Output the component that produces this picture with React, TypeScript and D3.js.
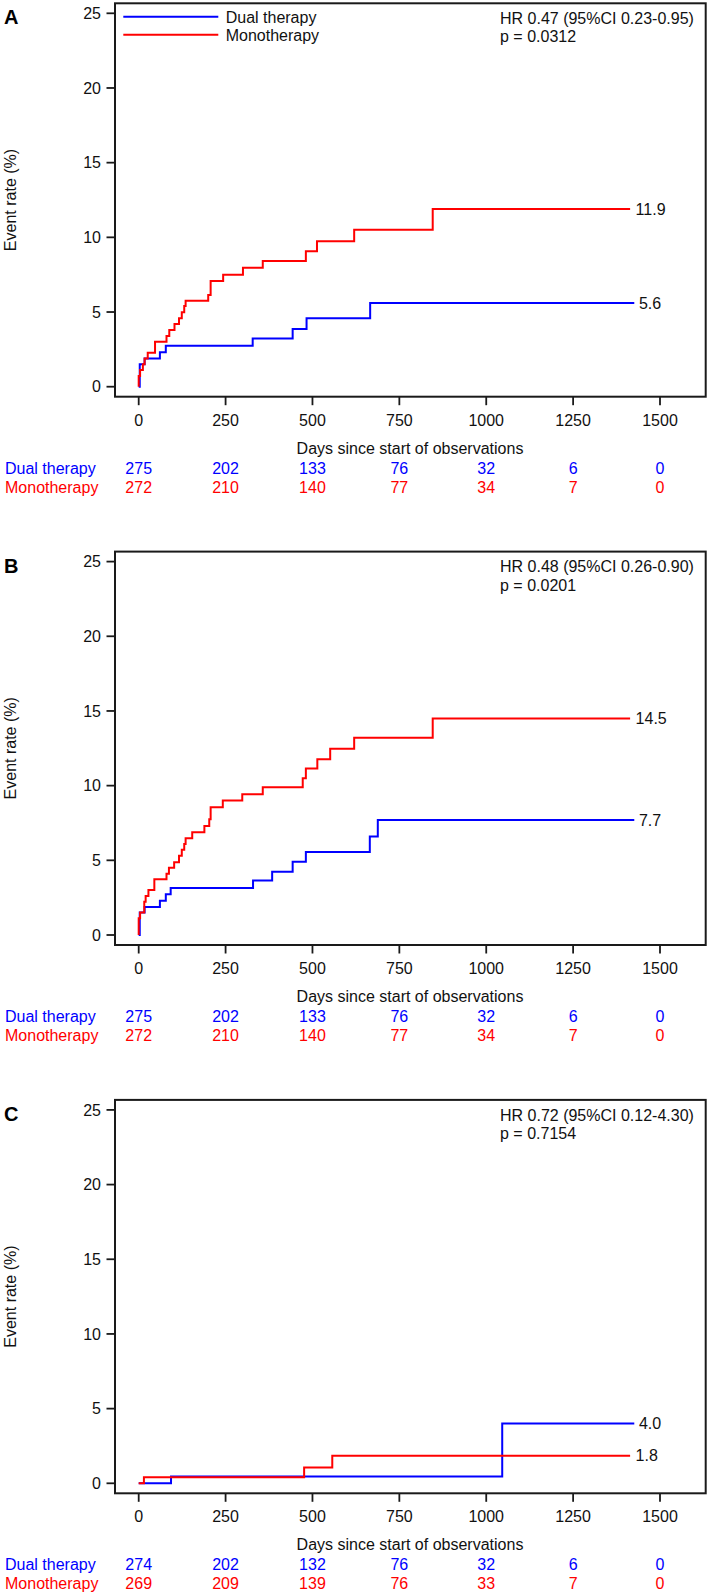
import React from "react";
import * as d3 from "d3";

const W = 709;
const H = 1595;

const panelLabels = ["A", "B", "C"];
const hrTexts = [
  "HR 0.47 (95%CI 0.23-0.95)",
  "HR 0.48 (95%CI 0.26-0.90)",
  "HR 0.72 (95%CI 0.12-4.30)",
];
const pTexts = ["p = 0.0312", "p = 0.0201", "p = 0.7154"];

const xTicks = [0, 250, 500, 750, 1000, 1250, 1500];
const yTicks = [0, 5, 10, 15, 20, 25];

const seriesNames = ["Dual therapy", "Monotherapy"];
const seriesColors = ["#0000ff", "#ff0000"];

// Panel A
const dualA_t = [0, 3, 17, 61, 78, 328, 443, 483, 666, 1426];
const dualA_v = [0, 1.5, 1.88, 2.3, 2.75, 3.22, 3.87, 4.58, 5.6, 5.6];
const monoA_t = [0, 0, 4, 12, 17, 26, 47, 80, 88, 103, 116, 124, 131, 135, 200, 207, 243, 300, 357, 481, 513, 620, 846, 1414];
const monoA_v = [0, 0.72, 1.12, 1.5, 1.88, 2.28, 3.01, 3.4, 3.8, 4.2, 4.58, 4.98, 5.4, 5.76, 6.14, 7.08, 7.5, 7.97, 8.42, 9.07, 9.74, 10.5, 11.9, 11.9];

// Panel B
const dualB_t = [0, 3, 17, 61, 78, 92, 329, 384, 443, 481, 665, 688, 1426];
const dualB_v = [0, 1.5, 1.88, 2.3, 2.72, 3.15, 3.65, 4.24, 4.9, 5.56, 6.6, 7.7, 7.7];
const monoB_t = [0, 0, 4, 16, 20, 28, 45, 80, 87, 102, 116, 124, 131, 135, 154, 189, 203, 207, 242, 298, 357, 472, 481, 514, 551, 620, 846, 1414];
const monoB_v = [0, 1.12, 1.5, 2.23, 2.61, 3.01, 3.73, 4.1, 4.5, 4.87, 5.3, 5.7, 6.1, 6.47, 6.88, 7.3, 7.75, 8.55, 9.0, 9.42, 9.9, 10.5, 11.15, 11.77, 12.47, 13.2, 14.5, 14.5];

// Panel C
const dualC_t = [0, 93, 1046, 1426];
const dualC_v = [0, 0.45, 4.0, 4.0];
const monoC_t = [0, 15, 476, 557, 1414];
const monoC_v = [0, 0.4, 1.05, 1.85, 1.85];

const endLabelsDual = ["5.6", "7.7", "4.0"];
const endLabelsMono = ["11.9", "14.5", "1.8"];

const riskDualA = [275, 202, 133, 76, 32, 6, 0];
const riskMonoA = [272, 210, 140, 77, 34, 7, 0];
const riskDualB = [275, 202, 133, 76, 32, 6, 0];
const riskMonoB = [272, 210, 140, 77, 34, 7, 0];
const riskDualC = [274, 202, 132, 76, 32, 6, 0];
const riskMonoC = [269, 209, 139, 76, 33, 7, 0];

const panels = [
  { dual: [dualA_t, dualA_v], mono: [monoA_t, monoA_v], risk: [riskDualA, riskMonoA], legend: true },
  { dual: [dualB_t, dualB_v], mono: [monoB_t, monoB_v], risk: [riskDualB, riskMonoB], legend: false },
  { dual: [dualC_t, dualC_v], mono: [monoC_t, monoC_v], risk: [riskDualC, riskMonoC], legend: false },
];

const FONT = "'Liberation Sans', Arial, Helvetica, sans-serif";
const FRAME = "#1a1a1a";

const xScale = d3.scaleLinear().domain([0, 1500]).range([138.7, 660]);

function Panel({ idx }: { idx: number }) {
  const top = 3.3 + 548.3 * idx;
  const p = panels[idx];
  const yScale = d3.scaleLinear().domain([0, 25]).range([top + 383.4, top + 10]);
  const frameL = 115;
  const frameR = 705.7;
  const frameT = top;
  const frameB = top + 393.4;
  const line = d3
    .line<[number, number]>()
    .x((d) => xScale(d[0]))
    .y((d) => yScale(d[1]))
    .curve(d3.curveStepAfter);
  const mk = (s: number[][]) => s[0].map((t, i) => [t, s[1][i]] as [number, number]);
  const dualPts = mk(p.dual);
  const monoPts = mk(p.mono);
  const dualEnd = dualPts[dualPts.length - 1];
  const monoEnd = monoPts[monoPts.length - 1];
  const rowY = [top + 464.7 + 5.7, top + 483.7 + 5.7];
  return (
    <g>
      <text x={4} y={top + 21} fontFamily={FONT} fontWeight="bold" fontSize={20}>
        {panelLabels[idx]}
      </text>
      {/* frame */}
      <rect x={frameL} y={frameT} width={frameR - frameL} height={frameB - frameT} fill="none" stroke={FRAME} strokeWidth={2} />
      {/* y ticks */}
      {yTicks.map((t) => (
        <g key={"y" + t}>
          <line x1={106.5} x2={frameL} y1={yScale(t)} y2={yScale(t)} stroke={FRAME} strokeWidth={1.8} />
          <text x={101} y={yScale(t) + 5.7} textAnchor="end" fontFamily={FONT} fontSize={16} fill="#111">
            {t}
          </text>
        </g>
      ))}
      <text
        transform={`translate(15.5,${(frameT + frameB) / 2}) rotate(-90)`}
        textAnchor="middle"
        fontFamily={FONT}
        fontSize={16}
        fill="#111"
      >
        Event rate (%)
      </text>
      {/* x ticks */}
      {xTicks.map((t) => (
        <g key={"x" + t}>
          <line x1={xScale(t)} x2={xScale(t)} y1={frameB} y2={frameB + 8.5} stroke={FRAME} strokeWidth={1.8} />
          <text x={xScale(t)} y={top + 416.7 + 5.7} textAnchor="middle" fontFamily={FONT} fontSize={16} fill="#111">
            {t}
          </text>
        </g>
      ))}
      <text x={410} y={top + 444.7 + 5.7} textAnchor="middle" fontFamily={FONT} fontSize={16} fill="#111">
        Days since start of observations
      </text>
      {/* numbers at risk */}
      {[0, 1].map((s) => (
        <g key={"r" + s} fill={seriesColors[s]} fontFamily={FONT} fontSize={16}>
          <text x={5} y={rowY[s]}>{seriesNames[s]}</text>
          {p.risk[s].map((n, i) => (
            <text key={i} x={xScale(xTicks[i])} y={rowY[s]} textAnchor="middle">
              {n}
            </text>
          ))}
        </g>
      ))}
      {/* curves */}
      <path d={line(dualPts) || ""} fill="none" stroke={seriesColors[0]} strokeWidth={2} />
      <path d={line(monoPts) || ""} fill="none" stroke={seriesColors[1]} strokeWidth={2} />
      <text x={xScale(dualEnd[0]) + 4.7} y={yScale(dualEnd[1]) + 5.7} fontFamily={FONT} fontSize={16} fill="#111">
        {endLabelsDual[idx]}
      </text>
      <text x={xScale(monoEnd[0]) + 5.5} y={yScale(monoEnd[1]) + 5.7} fontFamily={FONT} fontSize={16} fill="#111">
        {endLabelsMono[idx]}
      </text>
      {/* HR text */}
      <text x={500} y={top + 15 + 5.7} fontFamily={FONT} fontSize={16} fill="#111">
        {hrTexts[idx]}
      </text>
      <text x={500} y={top + 33.4 + 5.7} fontFamily={FONT} fontSize={16} fill="#111">
        {pTexts[idx]}
      </text>
      {p.legend && (
        <g>
          {[0, 1].map((s) => (
            <g key={"l" + s}>
              <line x1={123.3} x2={218.3} y1={top + 13.4 + 18 * s} y2={top + 13.4 + 18 * s} stroke={seriesColors[s]} strokeWidth={2} />
              <text x={225.7} y={top + 14 + 18 * s + 5.7} fontFamily={FONT} fontSize={16} fill="#111">
                {seriesNames[s]}
              </text>
            </g>
          ))}
        </g>
      )}
    </g>
  );
}

export default function App() {
  return (
    <svg
      width={W}
      height={H}
      viewBox={`0 0 ${W} ${H}`}
      style={{ position: "absolute", left: 0, top: 0, background: "#fff" }}
    >
      <rect x={0} y={0} width={W} height={H} fill="#fff" />
      {[0, 1, 2].map((i) => (
        <Panel key={i} idx={i} />
      ))}
    </svg>
  );
}
